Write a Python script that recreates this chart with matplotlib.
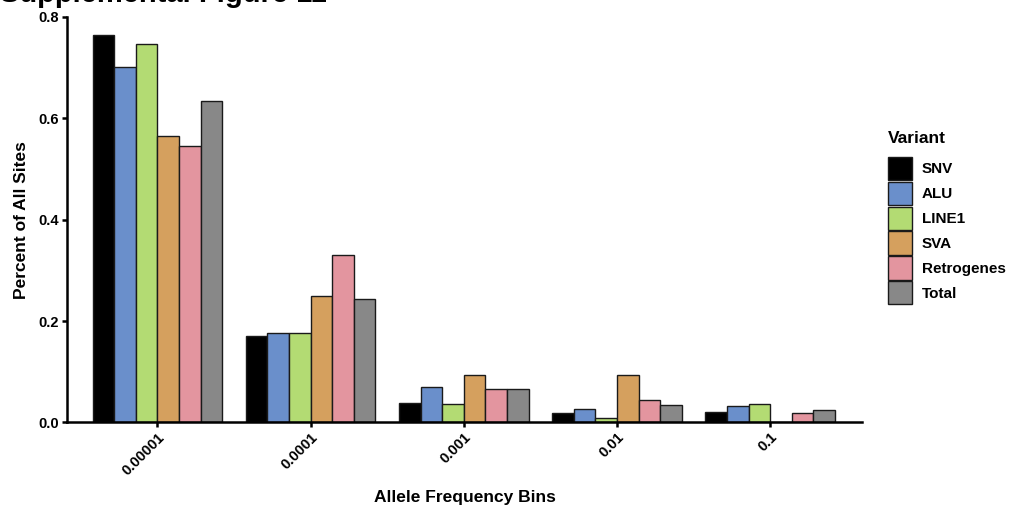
import numpy as np
import matplotlib.pyplot as plt
from matplotlib.patches import Patch

plt.rcParams['font.family'] = ['Liberation Sans', 'DejaVu Sans']
plt.rcParams['font.weight'] = 'bold'

bins = ['0.00001', '0.0001', '0.001', '0.01', '0.1']
variants = ['SNV', 'ALU', 'LINE1', 'SVA', 'Retrogenes', 'Total']
colors = ['#000000', '#6a8fcb', '#b3db73', '#d5a05e', '#e3959f', '#888888']

snv = [0.764, 0.170, 0.038, 0.018, 0.021]
alu = [0.701, 0.177, 0.069, 0.026, 0.032]
line1 = [0.746, 0.176, 0.037, 0.009, 0.037]
sva = [0.565, 0.250, 0.094, 0.094, 0.0]
retro = [0.545, 0.331, 0.065, 0.045, 0.018]
total = [0.635, 0.243, 0.065, 0.035, 0.025]
values = [snv, alu, line1, sva, retro, total]

fig = plt.figure(figsize=(10.09, 5.12), dpi=100)
ax = fig.add_axes([0.0664, 0.175, 0.788, 0.792])

x = np.arange(len(bins))
w = 0.141
for i, (name, vals, c) in enumerate(zip(variants, values, colors)):
    pos = x + (i - 2.5) * w
    ax.bar(pos, vals, width=w, color=c, edgecolor='#1a1a1a', linewidth=1.0, label=name)

ax.set_xlim(-0.59, 4.6)
ax.set_ylim(0, 0.8)
ax.set_yticks([0.0, 0.2, 0.4, 0.6, 0.8])
ax.set_yticklabels(['0.0', '0.2', '0.4', '0.6', '0.8'])
ax.set_xticks(x)
ax.set_xticklabels(bins, rotation=45, ha='right', rotation_mode='anchor')

for s in ['top', 'right']:
    ax.spines[s].set_visible(False)
for s in ['left', 'bottom']:
    ax.spines[s].set_linewidth(1.8)
ax.tick_params(width=1.8, length=3.5, labelsize=10.5, pad=2)
for lab in ax.get_xticklabels() + ax.get_yticklabels():
    lab.set_fontweight('bold')

ax.set_xlabel('Allele Frequency Bins', fontsize=12.5, fontweight='bold', va='center')
ax.set_ylabel('Percent of All Sites', fontsize=12.5, fontweight='bold', va='center')
ax.xaxis.set_label_coords(0.5, -0.184)
ax.yaxis.set_label_coords(-0.057, 0.5)

handles = [Patch(facecolor=c, edgecolor='#1a1a1a', linewidth=1.0) for c in colors]
leg = fig.legend(handles, variants, title='Variant', loc='upper left',
                 bbox_to_anchor=(0.880, 0.745), frameon=False,
                 fontsize=11, title_fontsize=12.5,
                 handlelength=1.6, handleheight=1.95, labelspacing=0.12,
                 handletextpad=0.6, borderpad=0, borderaxespad=0)
leg._legend_box.align = 'left'
leg._legend_box.sep = 8
for t in leg.get_texts():
    t.set_fontweight('bold')
leg.get_title().set_fontweight('bold')

fig.text(0.0, 1 - 2.5 / 512, 'Supplemental Figure 11', fontsize=21,
         fontweight='bold', va='baseline', ha='left')

fig.savefig('out.png', dpi=100)
